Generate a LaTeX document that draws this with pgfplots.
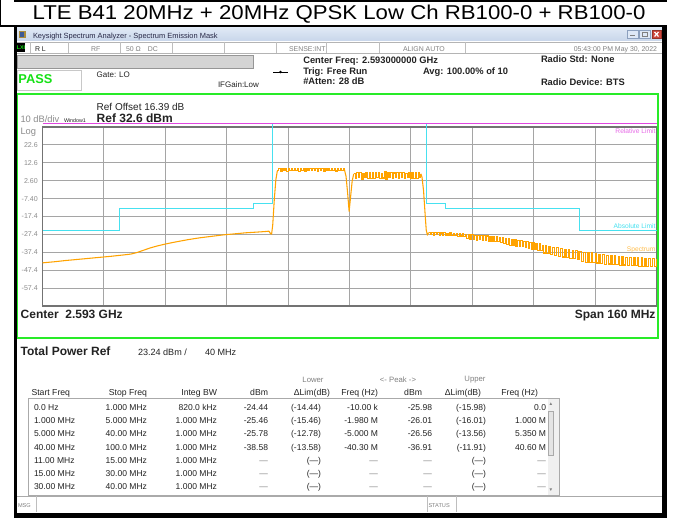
\documentclass[border=0pt]{standalone}
\usepackage{pgfplots}
\pgfplotsset{compat=1.18}
\usepackage{fontspec}
\setmainfont{Liberation Sans}
\newcommand{\fs}[1]{\fontsize{#1}{#1}\selectfont}
\definecolor{orangeS}{RGB}{255,163,0}
\definecolor{cyanL}{RGB}{70,225,240}
\definecolor{magL}{RGB}{225,70,225}
\definecolor{greenF}{RGB}{40,235,40}
\definecolor{gridgray}{RGB}{165,165,165}
\definecolor{axisgray}{RGB}{115,115,115}
\definecolor{tickgray}{RGB}{140,140,140}
\definecolor{passgreen}{RGB}{20,225,20}
\definecolor{txt}{RGB}{35,35,35}
\definecolor{tbtop}{RGB}{225,234,246}
\definecolor{tbbot}{RGB}{200,214,234}
\definecolor{icontan}{RGB}{170,140,60}
\definecolor{iconblue}{RGB}{60,90,150}
\definecolor{wtext}{RGB}{40,40,70}
\definecolor{btnfill}{RGB}{222,232,246}
\definecolor{btndraw}{RGB}{140,160,190}
\definecolor{redfill}{RGB}{205,70,60}
\definecolor{reddraw}{RGB}{150,50,40}
\definecolor{line180}{RGB}{180,180,180}
\definecolor{line190}{RGB}{190,190,190}
\definecolor{line170}{RGB}{170,170,170}
\definecolor{boxgray}{RGB}{212,212,212}
\definecolor{boxdraw}{RGB}{150,150,150}
\definecolor{passdraw}{RGB}{200,200,200}
\definecolor{sbfill}{RGB}{240,240,240}
\definecolor{thumb}{RGB}{228,228,228}
\newcommand{\ry}{0}
\newcommand{\trow}[9]{%
 \node[anchor=mid west] at (34,\ry) {#1};
 \node[anchor=mid east] at (147,\ry) {#2};
 \node[anchor=mid east] at (217,\ry) {#3};
 \node[anchor=mid east] at (268,\ry) {#4};
 \node[anchor=mid east] at (321,\ry) {#5};
 \node[anchor=mid east] at (378,\ry) {#6};
 \node[anchor=mid east] at (432,\ry) {#7};
 \node[anchor=mid east] at (486,\ry) {#8};
 \node[anchor=mid east] at (546,\ry) {#9};}
\begin{document}
\begin{tikzpicture}
\useasboundingbox (0,0) rectangle (508.5pt,388.5pt);
\fill[white] (0,0) rectangle (508.5pt,388.5pt);
\begin{scope}[x=0.75pt,y=-0.75pt,yshift=388.5pt,every node/.style={inner sep=0pt,outer sep=0pt}]
% title
\node at (339,14) {\fs{15}\scalebox{1.11}[1]{LTE B41 20MHz + 20MHz QPSK Low Ch RB100-0 + RB100-0}};
% window title bar
\shade[top color=tbtop, bottom color=tbbot] (16.5,27) rectangle (661.5,41);
\fill[icontan] (18.5,31) rectangle (25.5,38.5);
\fill[iconblue] (20,32.5) rectangle (24,37);
\node[anchor=mid west,text=wtext] at (33,35) {\fs{5.6}Keysight Spectrum Analyzer - Spectrum Emission Mask};
\filldraw[fill=btnfill,draw=btndraw] (627,30) rectangle (638,38.5);
\filldraw[fill=btnfill,draw=btndraw] (639.5,30) rectangle (650.5,38.5);
\filldraw[fill=redfill,draw=reddraw] (652,30) rectangle (661,38.5);
\draw[gray,line width=0.8] (630,35.5) -- (635,35.5);
\draw[gray] (642.5,32.5) rectangle (647.5,36.5);
\draw[white,line width=0.9] (654.5,32) -- (658.5,36.5) (654.5,36.5) -- (658.5,32);
% status row
\draw[line180] (16.5,42) -- (661.5,42) (16.5,53) -- (661.5,53);
\foreach \xx in {30,68,120,172.7,224.3,276,326.7,379.3,465}{\draw[line190] (\xx,42) -- (\xx,53);}
\fill[black] (17,43) rectangle (25,52);
\node[text=passgreen] at (21,47.5) {\fs{4}\textbf{LXI}};
\node[anchor=mid west,text=txt] at (35,47.5) {\fs{5.2}R L};
\node[anchor=mid west,text=gray] at (91,47.5) {\fs{5.2}RF};
\node[anchor=mid west,text=gray] at (126,47.5) {\fs{5.2}50 Ω\quad DC};
\node[anchor=mid west,text=gray] at (289,47.5) {\fs{5.2}SENSE:INT};
\node[anchor=mid west,text=gray] at (403,47.5) {\fs{5.2}ALIGN AUTO};
\node[anchor=mid east,text=gray] at (657,47.5) {\fs{5.2}05:43:00 PM May 30, 2022};
% header
\filldraw[fill=boxgray,draw=boxdraw] (17,55) rectangle (253,68.3);
\filldraw[fill=white,draw=passdraw] (17,70) rectangle (81.7,90);
\node[anchor=mid west,text=passgreen] at (18.5,79.5) {\fs{9.6}\textbf{PASS}};
\node[anchor=mid west,text=txt] at (96.7,74) {\fs{6}Gate: LO};
\node[anchor=mid west,text=txt] at (218,83.5) {\fs{6}IFGain:Low};
\draw[black,line width=0.6] (273,72) -- (288,72);
\fill[black] (280.5,72) circle (1.3);
\node[anchor=mid west,text=txt] at (303.3,60.3) {\fs{7}\textbf{Center Freq: 2.593000000 GHz}};
\node[anchor=mid west,text=txt] at (303.3,70.7) {\fs{7}\textbf{Trig: Free Run}};
\node[anchor=mid west,text=txt] at (303.3,81.3) {\fs{7}\textbf{\#Atten: 28 dB}};
\node[anchor=mid west,text=txt] at (423,70.7) {\fs{7}\textbf{Avg: 100.00\% of 10}};
\node[anchor=mid west,text=txt] at (541,59) {\fs{7}\textbf{Radio Std: None}};
\node[anchor=mid west,text=txt] at (541,81.7) {\fs{7}\textbf{Radio Device: BTS}};
% green frame
\draw[greenF,line width=1.6] (17.3,93.8) rectangle (658.3,338);
\node[anchor=mid west,text=txt] at (96.7,107.3) {\fs{7.5}Ref Offset 16.39 dB};
\node[anchor=mid west,text=txt] at (96.7,119.3) {\fs{9}\textbf{Ref 32.6 dBm}};
\node[anchor=mid west,text=tickgray] at (20.5,119.3) {\fs{7}10 dB/div};
\node[anchor=mid west,text=txt] at (64,119.3) {\fs{4}Window1};
\node[anchor=mid west,text=tickgray] at (20.5,130.7) {\fs{7}Log};
\node[anchor=mid west,text=txt] at (20.7,315) {\fs{9}\textbf{Center\ \ 2.593 GHz}};
\node[anchor=mid east,text=txt] at (655.5,315) {\fs{9}\textbf{Span 160 MHz}};
% total power
\node[anchor=mid west,text=txt] at (20.7,351.5) {\fs{9}\textbf{Total Power Ref}};
\node[anchor=mid west,text=txt] at (138,351.5) {\fs{6.8}23.24 dBm /};
\node[anchor=mid west,text=txt] at (205,351.5) {\fs{6.8}40 MHz};
% table header
\node[text=gray] at (313,380) {\fs{5.8}Lower};
\node[text=gray] at (398,380) {\fs{5.8}<- Peak ->};
\node[text=gray] at (475,380) {\fs{5.8}Upper};
\begin{scope}[every node/.append style={text=txt,font=\fs{6.5}}]
\node[anchor=mid west] at (31.5,391.5) {Start Freq};
\node[anchor=mid east] at (147,391.5) {Stop Freq};
\node[anchor=mid east] at (217,391.5) {Integ BW};
\node[anchor=mid east] at (268,391.5) {dBm};
\node[anchor=mid east] at (330,391.5) {ΔLim(dB)};
\node[anchor=mid east] at (378,391.5) {Freq (Hz)};
\node[anchor=mid east] at (422,391.5) {dBm};
\node[anchor=mid east] at (481,391.5) {ΔLim(dB)};
\node[anchor=mid east] at (538,391.5) {Freq (Hz)};
\end{scope}
\draw[line170] (28,398.5) rectangle (559,495);
\fill[sbfill] (548,399) rectangle (558.5,494.5);
\filldraw[fill=thumb,draw=line170] (548.5,411) rectangle (553.5,455);
\node[text=gray] at (551,404) {\fs{3.5}▲};
\node[text=gray] at (551,490) {\fs{3.5}▼};
\begin{scope}[every node/.append style={text=txt,font=\fs{6.4}}]
\renewcommand{\ry}{407}\trow{0.0 Hz}{1.000 MHz}{820.0 kHz}{-24.44}{(-14.44)}{-10.00 k}{-25.98}{(-15.98)}{0.0}
\renewcommand{\ry}{420.2}\trow{1.000 MHz}{5.000 MHz}{1.000 MHz}{-25.46}{(-15.46)}{-1.980 M}{-26.01}{(-16.01)}{1.000 M}
\renewcommand{\ry}{433.4}\trow{5.000 MHz}{40.00 MHz}{1.000 MHz}{-25.78}{(-12.78)}{-5.000 M}{-26.56}{(-13.56)}{5.350 M}
\renewcommand{\ry}{446.6}\trow{40.00 MHz}{100.0 MHz}{1.000 MHz}{-38.58}{(-13.58)}{-40.30 M}{-36.91}{(-11.91)}{40.60 M}
\renewcommand{\ry}{459.8}\trow{11.00 MHz}{15.00 MHz}{1.000 MHz}{\textcolor{gray}{---}}{(---)}{\textcolor{gray}{---}}{\textcolor{gray}{---}}{(---)}{\textcolor{gray}{---}}
\renewcommand{\ry}{473}\trow{15.00 MHz}{30.00 MHz}{1.000 MHz}{\textcolor{gray}{---}}{(---)}{\textcolor{gray}{---}}{\textcolor{gray}{---}}{(---)}{\textcolor{gray}{---}}
\renewcommand{\ry}{486.2}\trow{30.00 MHz}{40.00 MHz}{1.000 MHz}{\textcolor{gray}{---}}{(---)}{\textcolor{gray}{---}}{\textcolor{gray}{---}}{(---)}{\textcolor{gray}{---}}
\end{scope}
% bottom bar
\draw[line170] (16.5,496) -- (661.5,496);
\draw[line190] (36,496) -- (36,512) (427,496) -- (427,512) (456,496) -- (456,512);
\node[anchor=mid west,text=gray] at (18,503.5) {\fs{4.2}MSG};
\node[anchor=mid west,text=gray] at (428.5,503.5) {\fs{4.2}STATUS};
% frames
\fill[black] (0,0) rectangle (1.3,26);
\fill[black] (14,0) rectangle (666.5,1.6);
\fill[black] (0,25) rectangle (666.5,27.3);
\fill[black] (13.8,26) rectangle (16.6,517.5);
\fill[black] (661.6,26) rectangle (666.6,517.5);
\fill[black] (13.8,513) rectangle (666.6,517.5);
\end{scope}
\begin{axis}[
 at={(31.875pt,159pt)}, anchor=south west, scale only axis,
 width=460.5pt, height=134.25pt,
 xmin=-80, xmax=80, ymin=-67.4, ymax=32.6,
 xtick={-64,-48,-32,-16,0,16,32,48,64}, xticklabels={},
 ytick={-57.4,-47.4,-37.4,-27.4,-17.4,-7.4,2.6,12.6,22.6},
 yticklabels={-57.4,-47.4,-37.4,-27.4,-17.4,-7.40,2.60,12.6,22.6},
 yticklabel style={font=\fs{5.3}, text=tickgray},
 major tick length=0pt,
 grid=major, major grid style={draw=gridgray, line width=0.75pt},
 axis line style={draw=axisgray, line width=1.2pt},
 clip=false,
]
\addplot[cyanL, line width=0.75pt] coordinates {(-80,-25) (-60,-25) (-60,-13) (-25,-13) (-25,-10) (-20,-10) (-20,34.7) (20,34.7) (20,-10) (25,-10) (25,-13) (60,-13) (60,-25) (80,-25)};
\addplot[magL, line width=0.85pt] coordinates {(-80,34.7) (80,34.7)};
% smooth lower-side emission and rising edge
\addplot[orangeS, line width=0.8pt, line join=round] coordinates {
(-80,-43.3) (-77,-42.7) (-74,-42.0) (-71,-41.4) (-68,-40.8) (-65,-40.2) (-62,-39.6) (-59,-38.9) (-57,-38.4) (-55.5,-37.6) (-54,-36.5) (-52,-35.0) (-50,-33.8) (-48,-32.8) (-46,-31.9) (-44,-31.1) (-42,-30.3) (-39,-29.3) (-36,-28.5) (-33,-27.7) (-30,-27.1) (-27,-26.5) (-24,-26.1) (-22,-25.8) (-21,-25.6) (-20.6,-26.9) (-20.3,-27.3) (-20.0,-22) (-19.6,-8) (-19.2,3) (-18.8,8.2)};
% carrier 1
\addplot[orangeS, line width=0.85pt, const plot] coordinates {
(-18.8,8.2) (-18.4,9.4) (-18.0,8.0) (-17.6,9.6) (-17.2,8.3) (-16.8,9.2) (-16.4,7.9) (-16.0,9.5) (-15.6,8.4) (-15.2,9.3) (-14.8,8.1) (-14.4,9.6) (-14.0,8.5) (-13.6,9.1) (-13.2,7.8) (-12.8,9.4) (-12.4,8.2) (-12.0,9.5) (-11.6,8.0) (-11.2,9.2) (-10.8,8.3) (-10.4,9.6) (-10.0,8.1) (-9.6,9.3) (-9.2,8.4) (-8.8,9.5) (-8.4,7.9) (-8.0,9.2) (-7.6,8.2) (-7.2,9.4) (-6.8,8.0) (-6.4,9.6) (-6.0,8.3) (-5.6,9.1) (-5.2,8.1) (-4.8,9.5) (-4.4,8.4) (-4.0,9.3) (-3.6,8.0) (-3.2,9.4) (-2.8,8.3) (-2.4,9.2) (-2.0,8.5) (-1.6,9.3) (-1.3,8.6)};
% gap between carriers
\addplot[orangeS, line width=0.8pt, line join=round] coordinates {
(-1.3,8.6) (-0.9,5) (-0.5,-4) (-0.1,-14.6) (0.3,-6) (0.7,2.5) (1.1,6.4)};
% carrier 2
\addplot[orangeS, line width=0.85pt, const plot] coordinates {
(1.1,6.4) (1.5,3.8) (1.9,7.0) (2.3,4.2) (2.7,7.2) (3.1,3.5) (3.5,6.8) (3.9,4.5) (4.3,7.3) (4.7,3.9) (5.1,6.9) (5.5,4.0) (5.9,7.4) (6.3,3.6) (6.7,7.0) (7.1,4.4) (7.5,7.2) (7.9,3.8) (8.3,6.8) (8.7,4.1) (9.1,7.5) (9.5,3.5) (9.9,7.0) (10.3,4.3) (10.7,7.2) (11.1,3.9) (11.5,6.9) (11.9,4.6) (12.3,7.4) (12.7,3.7) (13.1,7.1) (13.5,4.2) (13.9,7.3) (14.3,3.8) (14.7,6.8) (15.1,4.4) (15.5,7.4) (15.9,3.6) (16.3,7.0) (16.7,4.0) (17.1,7.3) (17.5,3.9) (17.9,7.1) (18.3,4.3) (18.6,6.5)};
% falling edge
\addplot[orangeS, line width=0.8pt, line join=round] coordinates {
(18.6,6.5) (18.9,4.5) (19.3,-3) (19.7,-16) (20.0,-25) (20.3,-27.8) (20.6,-26.4)};
% upper-side emission
\addplot[orangeS, line width=0.85pt, const plot] coordinates {
(20.6,-26.4) (21.0,-27.6) (21.4,-26.3) (21.8,-27.9) (22.2,-26.5) (22.6,-27.5) (23.0,-26.4) (23.4,-28.0) (23.8,-26.6) (24.2,-27.7) (24.6,-26.5) (25.0,-28.1) (25.4,-26.7) (25.8,-27.8) (26.2,-26.6) (26.6,-28.2) (27.0,-26.8) (27.4,-28.0) (27.8,-26.9) (28.2,-28.4) (28.6,-27.0) (29.0,-28.3) (29.4,-27.1) (29.8,-28.6)
(30.2,-27.3) (30.6,-29.9) (31.0,-27.5) (31.4,-30.2) (31.8,-27.6) (32.2,-30.0) (32.6,-27.8) (33.0,-30.6) (33.4,-27.9) (33.8,-30.4) (34.2,-28.0) (34.6,-31.0) (35.0,-28.2) (35.4,-30.8) (35.8,-28.3) (36.2,-31.3) (36.6,-28.5) (37.0,-31.1) (37.4,-28.6) (37.8,-31.6) (38.2,-28.8) (38.6,-31.5) (39.0,-29.0) (39.4,-32.0) (39.8,-29.2)
(40.2,-32.6) (40.6,-29.8) (41.0,-33.0) (41.4,-30.0) (41.8,-33.6) (42.2,-30.3) (42.6,-33.4) (43.0,-30.5) (43.4,-34.0) (43.8,-30.8) (44.2,-34.4) (44.6,-31.0) (45.0,-34.2) (45.4,-31.3) (45.8,-34.9) (46.2,-31.5) (46.6,-35.2) (47.0,-31.8) (47.4,-35.6) (47.8,-32.0) (48.2,-35.9) (48.6,-32.3) (49.0,-36.2) (49.4,-32.5) (49.8,-36.5)
(50.2,-33.6) (50.6,-37.8) (51.0,-33.9) (51.4,-38.2) (52.0,-34.2) (52.4,-38.8) (53.0,-34.5) (53.4,-39.3) (54.0,-34.8) (54.4,-39.6) (55.0,-35.4) (55.4,-40.0) (56.0,-35.8) (56.4,-40.4) (57.0,-36.0) (57.4,-40.8) (58.0,-36.3) (58.4,-41.1) (59.0,-36.6) (59.4,-41.4) (59.8,-36.8)
(60.4,-42.6) (61.0,-37.4) (61.4,-42.9) (62.0,-37.6) (62.4,-43.1) (63.0,-37.8) (63.4,-43.0) (64.0,-38.0) (64.4,-43.4) (65.0,-38.4) (65.4,-43.7) (66.0,-38.8) (66.4,-44.0) (67.0,-39.0) (67.4,-43.9) (68.0,-39.3) (68.4,-44.2) (69.0,-39.5) (69.4,-44.4) (70.0,-39.8) (70.4,-44.6) (71.0,-40.0) (71.4,-44.5) (72.0,-40.1) (72.4,-44.8) (73.0,-40.2) (73.4,-45.0) (74.0,-40.4) (74.4,-44.9) (75.0,-40.5) (75.4,-45.1) (76.0,-40.6) (76.4,-45.2) (77.0,-40.8) (77.4,-45.3) (78.0,-40.9) (78.4,-45.4) (79.0,-41.0) (79.4,-45.5) (80.0,-41.1)
};
\node[anchor=north east,inner sep=0pt,text=magL!80] at (axis cs:79.8,31.8) {\fs{5}Relative Limit};
\node[anchor=mid east,inner sep=0pt,text=cyanL] at (axis cs:79.8,-22.4) {\fs{5}Absolute Limit};
\node[anchor=mid east,inner sep=0pt,text=orangeS!70] at (axis cs:79.8,-35) {\fs{5}Spectrum};
\end{axis}
\end{tikzpicture}
\end{document}
